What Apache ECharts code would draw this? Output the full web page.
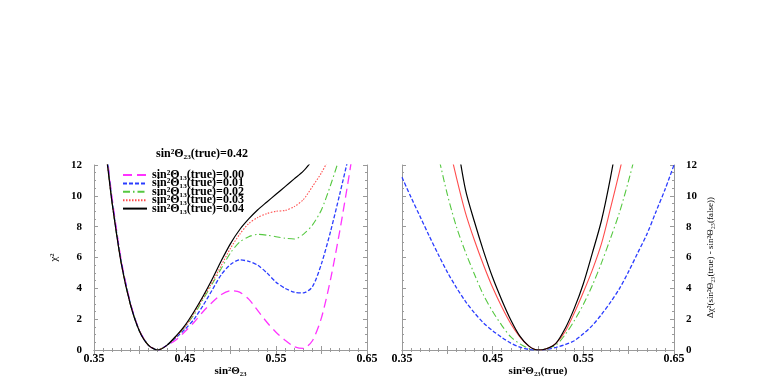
<!DOCTYPE html>
<html>
<head>
<meta charset="utf-8">
<script src="https://cdn.jsdelivr.net/npm/echarts@6/dist/echarts.min.js"></script>
<style>
  html, body { margin: 0; padding: 0; background: #fff; }
  #chart { width: 763px; height: 382px; }
</style>
</head>
<body>
<div id="chart"></div>
<script>
  // left panel: chi^2 vs sin^2 theta23, true value 0.42
  const xLeft = [0.36, 0.365, 0.37, 0.38, 0.39, 0.40, 0.41, 0.42, 0.43, 0.44, 0.45, 0.46, 0.47, 0.48, 0.49,
    0.50, 0.51, 0.52, 0.53, 0.54, 0.55, 0.56, 0.57, 0.58, 0.59, 0.60, 0.61, 0.62, 0.63, 0.64]
  const left000 = [14.6, 12.3, 9.8, 5.8, 3.05, 1.25, 0.3, 0, 0.3, 0.65, 1.2, 1.8, 2.5, 3.1, 3.6,
    3.85, 3.75, 3.3, 2.55, 1.8, 1.15, 0.63, 0.22, 0.1, 0.6, 2.1, 4.6, 7.7, 11.2, 15]
  const left001 = [14.4, 12.1, 9.6, 5.7, 3.0, 1.22, 0.3, 0, 0.3, 0.8, 1.35, 2.0, 2.9, 3.9, 4.9,
    5.55, 5.85, 5.75, 5.5, 5.0, 4.4, 4.0, 3.75, 3.7, 4.1, 5.6, 7.7, 10.1, 12.6, null]
  const left002 = [14.3, 12.0, 9.5, 5.6, 2.95, 1.22, 0.3, 0, 0.3, 0.85, 1.5, 2.3, 3.3, 4.3, 5.3,
    6.3, 7.0, 7.35, 7.5, 7.45, 7.35, 7.25, 7.2, 7.5, 8.1, 9.1, 10.7, 12.5, null, null]
  const left003 = [14.2, 11.9, 9.5, 5.6, 2.95, 1.22, 0.3, 0, 0.3, 0.85, 1.5, 2.4, 3.4, 4.4, 5.5,
    6.6, 7.5, 8.2, 8.6, 8.85, 9.0, 9.05, 9.3, 9.75, 10.6, 11.5, 12.6, null, null, null]
  const left004 = [14.2, 11.9, 9.5, 5.6, 2.95, 1.22, 0.3, 0, 0.3, 0.9, 1.6, 2.5, 3.5, 4.6, 5.8,
    6.9, 7.8, 8.5, 9.1, 9.6, 10.1, 10.6, 11.1, 11.6, 12.3, null, null, null, null, null]

  // right panel: delta chi^2, true value 0.50
  const xRight = [0.35, 0.36, 0.37, 0.38, 0.39, 0.40, 0.41, 0.42, 0.43, 0.44, 0.45, 0.46, 0.47, 0.48, 0.49,
    0.50, 0.51, 0.52, 0.53, 0.54, 0.55, 0.56, 0.57, 0.58, 0.59, 0.60, 0.61, 0.62, 0.63, 0.64, 0.65]
  const right001 = [11.2, 9.9, 8.65, 7.4, 6.2, 5.05, 4.05, 3.15, 2.4, 1.75, 1.25, 0.82, 0.45, 0.18, 0.04,
    0, 0.05, 0.17, 0.35, 0.6, 1.05, 1.6, 2.3, 3.1, 4.0, 5.1, 6.3, 7.5, 8.95, 10.4, 12.0]
  const right002 = [null, null, null, 15.0, 12.6, 10.1, 8.0, 6.35, 4.9, 3.55, 2.5, 1.6, 0.85, 0.4, 0.1,
    0, 0.1, 0.33, 1.0, 1.9, 2.95, 4.2, 5.65, 7.25, 8.95, 11.0, 13.3, null, null, null, null]
  const right003 = [null, null, null, null, 17.0, 13.8, 11.2, 8.9, 7.1, 5.5, 4.05, 2.8, 1.7, 0.85, 0.25,
    0, 0.1, 0.45, 1.2, 2.4, 3.75, 5.2, 6.9, 9.2, 11.6, 14.2, null, null, null, null, null]
  const right004 = [null, null, null, null, null, 17.5, 13.8, 10.4, 8.3, 6.4, 4.7, 3.25, 1.95, 0.9, 0.25,
    0, 0.1, 0.45, 1.4, 2.7, 4.3, 6.3, 8.4, 11.2, 14.5, null, null, null, null, null, null]

  const legendNames = ['sin²Θ₁₃(true)=0.00', 'sin²Θ₁₃(true)=0.01', 'sin²Θ₁₃(true)=0.02',
    'sin²Θ₁₃(true)=0.03', 'sin²Θ₁₃(true)=0.04']

  const font = 'Liberation Serif'
  const frameColor = '#9a9a9a'

  function pairs(xs, ys) {
    return xs.map((x, i) => [x, ys[i]])
  }

  function xAxisOf(grid, bottom, name) {
    return {
      type: 'value',
      gridIndex: grid,
      position: bottom ? 'bottom' : 'top',
      min: 0.35,
      max: 0.65,
      interval: 0.05,
      name: bottom ? name : '',
      nameLocation: 'middle',
      nameGap: 14,
      nameTextStyle: {color: '#000', fontFamily: font, fontSize: 11, fontWeight: 'bold'},
      axisLine: {show: true, lineStyle: {color: frameColor, width: 1}},
      axisTick: {show: true, inside: true, length: 4, lineStyle: {color: frameColor}},
      minorTick: {show: true, splitNumber: 5, length: 2, lineStyle: {color: frameColor}},
      splitLine: {show: false},
      axisLabel: {
        show: bottom,
        margin: 3,
        color: '#000',
        fontFamily: font,
        fontSize: 12,
        fontWeight: 'bold',
        showMinLabel: true,
        showMaxLabel: true,
        formatter: function (v) {
          const k = Math.round(v * 100)
          return k % 10 === 5 ? v.toFixed(2) : ''
        }
      }
    }
  }

  function yAxisOf(grid, pos, labels, name, extra) {
    return Object.assign({
      type: 'value',
      gridIndex: grid,
      position: pos,
      min: 0,
      max: 12,
      interval: 2,
      axisLine: {show: true, lineStyle: {color: frameColor, width: 1}},
      axisTick: {show: true, inside: true, length: 4, lineStyle: {color: frameColor}},
      minorTick: {show: true, splitNumber: 4, length: 2, lineStyle: {color: frameColor}},
      splitLine: {show: false},
      axisLabel: {show: labels, margin: 12, color: '#000', fontFamily: font, fontSize: 11, fontWeight: 'bold'},
      name: name,
      nameLocation: 'middle',
    }, extra || {})
  }

  const styles = [
    {name: legendNames[0], color: '#ff33ff', type: [9, 5], width: 1.3},
    {name: legendNames[1], color: '#2a3cff', type: [4, 2], width: 1.3},
    {name: legendNames[2], color: '#55c840', type: [7, 3, 1.5, 3], width: 1.1},
    {name: legendNames[3], color: '#ff4d4d', type: [1.5, 1.5], width: 1.1},
    {name: legendNames[4], color: '#000000', type: 'solid', width: 1.2}
  ]
  const leftData = [left000, left001, left002, left003, left004]

  const series = []
  styles.forEach((s, i) => {
    series.push({
      name: s.name,
      type: 'line',
      xAxisIndex: 0,
      yAxisIndex: 0,
      symbol: 'none',
      smooth: 0.25,
      clip: true,
      data: pairs(xLeft, leftData[i]),
      itemStyle: {color: s.color},
      lineStyle: {color: s.color, type: s.type, width: s.width}
    })
  })
  const rightData = [right001, right002, right003, right004]
  rightData.forEach((d, i) => {
    const s = styles[i + 1]
    series.push({
      name: 'r' + i,
      type: 'line',
      xAxisIndex: 2,
      yAxisIndex: 2,
      symbol: 'none',
      smooth: 0.3,
      clip: true,
      data: pairs(xRight, d),
      itemStyle: {color: s.color},
      lineStyle: {color: s.color, type: i === 2 ? 'solid' : s.type, width: s.width}
    })
  })

  const legends = legendNames.map((n, i) => ({
    data: [n],
    orient: 'vertical',
    left: 122,
    top: 169 + 8.4 * i,
    padding: 0,
    itemWidth: 24,
    itemHeight: 8,
    itemGap: 0,
    selectedMode: false,
    itemStyle: {opacity: 0},
    textStyle: {color: '#000', fontFamily: font, fontSize: 12, fontWeight: 'bold', lineHeight: 9}
  }))

  const myChart = echarts.init(document.getElementById('chart'), null, {renderer: 'canvas'})
  myChart.setOption({
    animation: false,
    backgroundColor: '#fff',
    title: {
      text: 'sin²Θ₂₃(true)=0.42',
      left: 156,
      top: 148,
      padding: 0,
      textStyle: {color: '#000', fontFamily: font, fontSize: 12, fontWeight: 'bold'}
    },
    legend: legends,
    grid: [
      {left: 94, top: 165, width: 273, height: 185},
      {left: 402, top: 165, width: 272, height: 185}
    ],
    xAxis: [
      xAxisOf(0, true, 'sin²Θ₂₃'),
      xAxisOf(0, false),
      xAxisOf(1, true, 'sin²Θ₂₃(true)'),
      xAxisOf(1, false)
    ],
    yAxis: [
      yAxisOf(0, 'left', true, 'χ²', {
        nameGap: 34, nameRotate: 90,
        nameTextStyle: {color: '#000', fontFamily: font, fontSize: 11}
      }),
      yAxisOf(0, 'right', false, ''),
      yAxisOf(1, 'left', false, ''),
      yAxisOf(1, 'right', true, 'Δχ²(sin²Θ₂₃(true) - sin²Θ₂₃(false))', {
        nameGap: 32, nameRotate: 90,
        nameTextStyle: {color: '#000', fontFamily: font, fontSize: 9}
      })
    ],
    series: series
  })
</script>
</body>
</html>
